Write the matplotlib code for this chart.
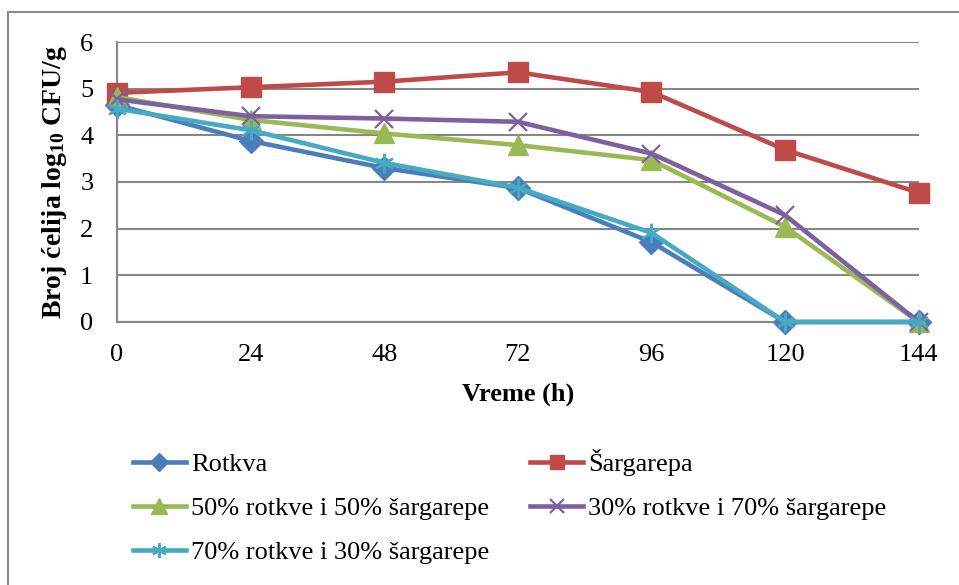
import matplotlib.pyplot as plt
from matplotlib.lines import Line2D

# ── Data ──────────────────────────────────────────────────────────────────────
hours = [0, 24, 48, 72, 96, 120, 144]

rotkva      = [4.65, 3.88, 3.30, 2.87, 1.71, 0.0, 0.0]
sargarepa   = [4.91, 5.03, 5.15, 5.35, 4.93, 3.69, 2.77]
mix_50_50   = [4.82, 4.33, 4.04, 3.79, 3.47, 2.04, 0.0]
mix_30_70   = [4.77, 4.41, 4.36, 4.29, 3.61, 2.29, 0.0]
mix_70_30   = [4.57, 4.11, 3.41, 2.88, 1.91, 0.0, 0.0]

labels = ["Rotkva", "Šargarepa", "50% rotkve i 50% šargarepe",
          "30% rotkve i 70% šargarepe", "70% rotkve i 30% šargarepe"]

C_BLUE   = "#4A7EBB"
C_RED    = "#BE4B48"
C_GREEN  = "#98B954"
C_PURPLE = "#7D60A0"
C_CYAN   = "#46AAC5"
C_GRID   = "#868686"

plt.rcParams.update({
    "font.family": ["Liberation Serif", "DejaVu Serif"],
    "mathtext.default": "regular",
})

fig = plt.figure(figsize=(9.59, 5.85), dpi=100)
ax = fig.add_axes([0.122, 0.4496, 0.836, 0.4786])

series = [
    (rotkva,    C_BLUE,   dict(marker="D", markersize=12)),
    (sargarepa, C_RED,    dict(marker="s", markersize=14)),
    (mix_50_50, C_GREEN,  dict(marker="^", markersize=15)),
    (mix_30_70, C_PURPLE, dict(marker="x", markersize=13, markeredgewidth=1.6)),
    (mix_70_30, C_CYAN,   dict(marker=(6, 2, 0), markersize=14, markeredgewidth=1.6)),
]

handles = []
for (vals, col, mk), lab in zip(series, labels):
    h, = ax.plot(hours, vals, color=col, linewidth=3.3, markerfacecolor=col,
                 markeredgecolor=col, label=lab, zorder=3, clip_on=False, **mk)
    handles.append(h)

ax.set_xlim(0, 144)
ax.set_ylim(0, 6)
ax.set_xticks(hours)
ax.set_yticks(range(0, 7))
ax.tick_params(axis="both", length=0, labelsize=19)
ax.tick_params(axis="x", pad=16)
ax.tick_params(axis="y", pad=17)
ax.yaxis.grid(True, color=C_GRID, linewidth=1.5)
ax.set_axisbelow(True)
for s in ["top", "right"]:
    ax.spines[s].set_visible(False)
for s in ["left", "bottom"]:
    ax.spines[s].set_color(C_GRID)
    ax.spines[s].set_linewidth(1.5)

ax.set_xlabel("Vreme (h)", fontsize=19, fontweight="bold", labelpad=12)
ax.set_ylabel("Broj ćelija log$_{10}$ CFU/g", fontsize=20, fontweight="bold", labelpad=8)

# outer chart border (left and top visible)
fig.add_artist(Line2D([0.0083, 0.0083], [0.0, 0.9795], color="#8C8C8C", linewidth=1.5))
fig.add_artist(Line2D([0.0083, 1.0], [0.9795, 0.9795], color="#8C8C8C", linewidth=1.5))

order = [0, 2, 4, 1, 3]
fig.legend([handles[i] for i in order], [labels[i] for i in order],
           ncol=2, loc="upper left", bbox_to_anchor=(0.1387, 0.232),
           frameon=False, fontsize=19, handlelength=2.0, handletextpad=0.2,
           columnspacing=1.55, labelspacing=0.78, borderaxespad=0, borderpad=0,
           markerscale=0.75)

fig.savefig("out.png", dpi=100)
